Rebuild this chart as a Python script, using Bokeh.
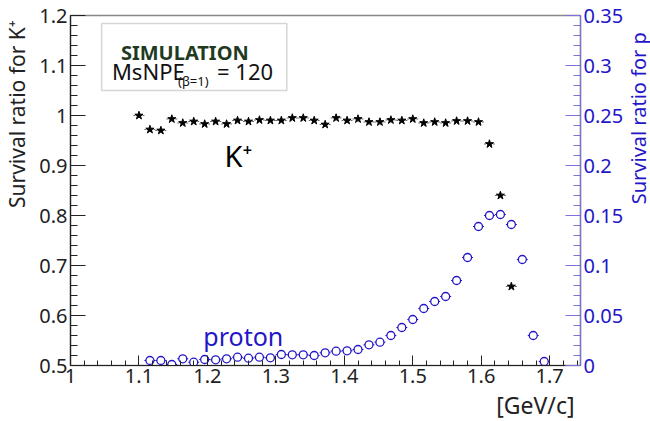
import math
import numpy as np
from bokeh.plotting import figure
from bokeh.layouts import row
from bokeh.models import (Range1d, LinearAxis, FixedTicker, CustomJSTickFormatter,
                          BoxAnnotation, Label, ColumnDataSource, Title)
from bokeh.embed import file_html
from bokeh.resources import INLINE

# ---- data ----
kaon_p = [1.100, 1.116, 1.132, 1.148, 1.164, 1.180, 1.196, 1.212, 1.228, 1.244,
          1.260, 1.276, 1.292, 1.308, 1.324, 1.340, 1.356, 1.372, 1.388, 1.404,
          1.420, 1.436, 1.452, 1.468, 1.484, 1.500, 1.516, 1.532, 1.548, 1.564,
          1.580, 1.596, 1.612, 1.628, 1.644]
kaon_ratio = [1.000, 0.972, 0.970, 0.993, 0.985, 0.988, 0.983, 0.988, 0.983, 0.990,
              0.988, 0.991, 0.990, 0.990, 0.995, 0.995, 0.990, 0.982, 0.995, 0.990,
              0.993, 0.987, 0.987, 0.991, 0.990, 0.993, 0.985, 0.987, 0.985, 0.989,
              0.989, 0.987, 0.943, 0.840, 0.658]
proton_p = [1.116, 1.132, 1.148, 1.164, 1.180, 1.196, 1.212, 1.228, 1.244, 1.260,
            1.276, 1.292, 1.308, 1.324, 1.340, 1.356, 1.372, 1.388, 1.404, 1.420,
            1.436, 1.452, 1.468, 1.484, 1.500, 1.516, 1.532, 1.548, 1.564, 1.580,
            1.596, 1.612, 1.628, 1.644, 1.660, 1.676, 1.692]
proton_ratio = [0.005, 0.005, 0.001, 0.0067, 0.0033, 0.006, 0.0057, 0.0067, 0.0083, 0.0073,
                0.0083, 0.0077, 0.011, 0.0107, 0.0107, 0.010, 0.0127, 0.0143, 0.0147, 0.016,
                0.0207, 0.0233, 0.030, 0.038, 0.046, 0.057, 0.064, 0.069, 0.085, 0.108,
                0.139, 0.150, 0.151, 0.141, 0.106, 0.030, 0.004]
bin_half = 0.008

x_ticks = [1.0, 1.1, 1.2, 1.3, 1.4, 1.5, 1.6, 1.7]
y_ticks = [0.5, 0.6, 0.7, 0.8, 0.9, 1.0, 1.1, 1.2]
p_ticks = [0.0, 0.05, 0.1, 0.15, 0.2, 0.25, 0.3, 0.35]

FONT = "Noto Sans"
BLUE = "#2416c8"
AXBLUE = "#7a72d6"
NB = "\u00a0"

p = figure(width=626, height=421, output_backend="svg", toolbar_location=None,
           x_range=Range1d(1.0, 1.745), y_range=Range1d(0.5, 1.2),
           min_border_left=67, min_border_right=46, min_border_top=15,
           min_border_bottom=56)
p.extra_y_ranges = {"p": Range1d(0.0, 0.35)}
p.grid.visible = False
p.outline_line_color = "#888888"
p.outline_line_width = 1.5
p.background_fill_color = "white"
p.border_fill_color = "white"

fmt = CustomJSTickFormatter(code="return (+tick.toFixed(3)).toString();")

def style_axis(ax, color="#222222", label_color="#222222", tick_in=15, minor_in=7):
    ax.major_tick_in = tick_in
    ax.major_tick_out = 0
    ax.minor_tick_in = minor_in
    ax.minor_tick_out = 0
    ax.axis_line_color = color
    ax.major_tick_line_color = color
    ax.minor_tick_line_color = color
    ax.axis_line_width = 1.2
    ax.major_label_text_font = FONT
    ax.major_label_text_font_size = "20px"
    ax.major_label_text_color = label_color
    ax.major_label_standoff = 3
    ax.axis_label_text_font = FONT
    ax.axis_label_text_font_size = "21px"
    ax.axis_label_text_font_style = "normal"
    ax.axis_label_text_color = label_color
    ax.formatter = fmt

xa = p.xaxis[0]
xa.ticker = FixedTicker(ticks=x_ticks,
                        minor_ticks=list(np.round(np.arange(1.0, 1.745, 0.02), 3)))
style_axis(xa, tick_in=10, minor_in=5)

ya = p.yaxis[0]
ya.ticker = FixedTicker(ticks=y_ticks,
                        minor_ticks=list(np.round(np.arange(0.5, 1.2001, 0.02), 3)))
style_axis(ya)
# leading non-breaking spaces push the (centred) title towards the top end
ya.axis_label = NB * 28 + "Survival ratio for K⁺"
ya.axis_label_standoff = 5

ra = LinearAxis(y_range_name="p")
ra.ticker = FixedTicker(ticks=p_ticks,
                        minor_ticks=list(np.round(np.arange(0.0, 0.3501, 0.01), 3)))
style_axis(ra, color=AXBLUE, label_color=BLUE)
p.add_layout(ra, "right")

# x-axis unit label, bottom right
p.add_layout(Title(text="[GeV/c]", align="right", text_font=FONT,
                   text_font_size="23px", text_font_style="normal",
                   text_color="#222222", offset=6, standoff=2), "below")

# ---- data marks ----
ksrc = ColumnDataSource(dict(x=kaon_p, y=kaon_ratio,
                             x0=[v - bin_half for v in kaon_p],
                             x1=[v + bin_half for v in kaon_p]))
psrc = ColumnDataSource(dict(x=proton_p, y=proton_ratio,
                             x0=[v - bin_half for v in proton_p],
                             x1=[v + bin_half for v in proton_p]))

p.segment(x0="x0", x1="x1", y0="y", y1="y", source=ksrc,
          line_color="#444444", line_width=0.8, line_dash="2 1")
p.scatter(x="x", y="y", source=ksrc, marker="star", size=8.5,
          fill_color="black", line_color="black")

p.segment(x0="x0", x1="x1", y0="y", y1="y", source=psrc, y_range_name="p",
          line_color=BLUE, line_width=1)
p.scatter(x="x", y="y", source=psrc, y_range_name="p", marker="circle", size=8,
          fill_color="white", line_color=BLUE, line_width=1.3)

# ---- annotations ----
p.add_layout(BoxAnnotation(left=1.0455, right=1.316, bottom=1.05, top=1.184,
                           fill_color="white", fill_alpha=1.0,
                           line_color="#777777", line_width=1.5))
p.add_layout(Label(x=1.167, y=1.127, text="SIMULATION", text_font=FONT,
                   text_font_size="20px", text_font_style="bold",
                   text_color="#1f3b1f", text_align="center",
                   text_baseline="alphabetic"))
p.add_layout(Label(x=1.0605, y=1.09, text="MsNPE", text_font=FONT,
                   text_font_size="22px", text_color="#111111",
                   text_baseline="alphabetic"))
p.add_layout(Label(x=1.157, y=1.07, text="(β=1)", text_font=FONT,
                   text_font_size="13px", text_color="#111111",
                   text_baseline="alphabetic"))
p.add_layout(Label(x=1.214, y=1.09, text="= 120", text_font=FONT,
                   text_font_size="22px", text_color="#111111",
                   text_baseline="alphabetic"))

p.add_layout(Label(x=1.225, y=0.92, text="K⁺", text_font=FONT,
                   text_font_size="29px", text_color="black",
                   text_baseline="middle"))
p.add_layout(Label(x=1.194, y=0.56, text="proton", text_font=FONT,
                   text_font_size="25px", text_color=BLUE,
                   text_baseline="alphabetic"))

# ---- narrow strip on the right carrying the right-axis title (reads upward) ----
q = figure(width=24, height=421, output_backend="svg", toolbar_location=None,
           x_range=Range1d(0, 1), y_range=Range1d(0, 421),
           min_border=0, min_border_left=0, min_border_right=0,
           min_border_top=0, min_border_bottom=0)
q.axis.visible = False
q.grid.visible = False
q.outline_line_color = None
q.background_fill_color = "white"
q.border_fill_color = "white"
q.add_layout(Label(x=0.5, y=401, text="Survival ratio for p", angle=math.pi / 2,
                   text_font=FONT, text_font_size="20px", text_color=BLUE,
                   text_align="right", text_baseline="middle"))

layout = row(p, q, spacing=0)
open("out.html", "w").write(file_html(layout, INLINE))
